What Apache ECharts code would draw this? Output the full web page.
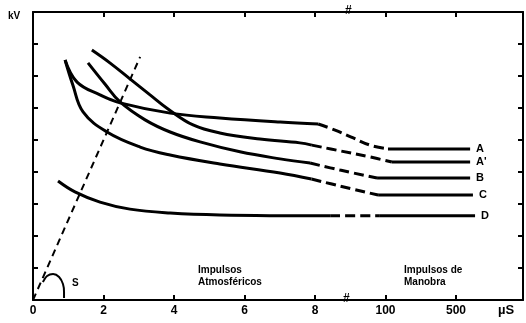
<!DOCTYPE html>
<html>
<head>
<meta charset="utf-8">
<script src="https://cdn.jsdelivr.net/npm/echarts@6/dist/echarts.min.js"></script>
<style>
  html, body { margin: 0; padding: 0; background: #fff; }
  #chart { width: 526px; height: 323px; }
</style>
</head>
<body>
<div id="chart"></div>
<script>
// x en posições do eixo: 0..8 µs linear, 10 = 100 µs, 12 = 500 µs (eixo quebrado em 9)
const xTickPos = [0, 2, 4, 6, 8, 10, 12];
const xTickText = ['0', '2', '4', '6', '8', '100', '500'];

// curva A
const aFront = [[0.91, 7.5], [1.25, 6.81], [1.9, 6.41], [2.47, 6.16], [3.89, 5.84], [5.3, 5.69], [7.01, 5.56], [8.09, 5.5]];
const aMid = [[8.09, 5.5], [8.57, 5.31], [9.03, 5.09], [9.56, 4.84], [10.07, 4.72]];
const aTail = [[10.07, 4.72], [12.4, 4.72]];
// curva A'
const a2Front = [[1.67, 7.81], [2.18, 7.41], [2.75, 6.91], [3.32, 6.41], [3.83, 5.97], [4.54, 5.47], [5.3, 5.22], [6.44, 5.03], [7.57, 4.91], [7.91, 4.84]];
const a2Mid = [[7.91, 4.84], [8.71, 4.66], [9.56, 4.47], [10.18, 4.31]];
const a2Tail = [[10.18, 4.31], [12.4, 4.31]];
// curva B
const bFront = [[1.56, 7.41], [2.04, 6.75], [2.47, 6.19], [3.18, 5.63], [3.89, 5.25], [4.74, 4.94], [5.87, 4.63], [7.01, 4.41], [7.86, 4.28]];
const bMid = [[7.86, 4.28], [8.71, 4.06], [9.76, 3.81]];
const bTail = [[9.76, 3.81], [12.4, 3.81]];
// curva C
const cFront = [[0.91, 7.5], [1.13, 6.72], [1.42, 5.88], [2.1, 5.25], [3.04, 4.78], [3.89, 4.53], [5.3, 4.25], [7.01, 3.97], [7.9, 3.78]];
const cMid = [[7.9, 3.78], [8.71, 3.56], [9.79, 3.28]];
const cTail = [[9.79, 3.28], [12.48, 3.28]];
// curva D
const dFront = [[0.71, 3.72], [1.19, 3.38], [1.9, 3.06], [2.75, 2.84], [3.89, 2.72], [5.3, 2.66], [8.43, 2.63]];
const dMid = [[8.43, 2.63], [9.84, 2.63]];
const dTail = [[9.84, 2.63], [12.54, 2.63]];
// reta S tracejada e arco do ângulo
const sLine = [[0, 0], [3.04, 7.6]];
const sArc = [[0.28, 0.56], [0.4, 0.75], [0.57, 0.81], [0.74, 0.72], [0.85, 0.5], [0.88, 0.25], [0.88, 0.06]];

const chart = echarts.init(document.getElementById('chart'));

const black = '#000';
const lbl = { color: black, fontFamily: 'Liberation Sans, Arial, sans-serif', fontWeight: 'bold' };

function part(data, dashed, name) {
    const s = {
        type: 'line',
        data: data,
        smooth: 0.4,
        symbol: 'none',
        silent: true,
        lineStyle: { color: black, width: 3, type: dashed ? [10, 5] : 'solid' }
    };
    if (name) {
        s.name = name;
        s.endLabel = Object.assign({ show: true, formatter: name, fontSize: 11, distance: 6 }, lbl);
    }
    return s;
}

const axisCommon = {
    axisLine: { show: true, onZero: false, lineStyle: { color: black, width: 2 } },
    axisTick: { show: true, inside: true, length: 5, lineStyle: { color: black, width: 2 } },
    splitLine: { show: false }
};

const option = {
    animation: false,
    grid: { left: 33, right: 3, top: 12, bottom: 23 },
    xAxis: [
        Object.assign({
            type: 'value', min: 0, max: 13.9, interval: 2, position: 'bottom',
            axisLabel: Object.assign({
                show: true, fontSize: 12, margin: 5,
                customValues: xTickPos,
                formatter: function (v) { return xTickText[xTickPos.indexOf(v)] || ''; }
            }, lbl)
        }, axisCommon),
        Object.assign({
            type: 'value', min: 0, max: 13.9, interval: 2, position: 'top',
            axisLabel: { show: false }
        }, axisCommon)
    ],
    yAxis: [
        Object.assign({ type: 'value', min: 0, max: 9, interval: 1, position: 'left', axisLabel: { show: false } }, axisCommon),
        Object.assign({ type: 'value', min: 0, max: 9, interval: 1, position: 'right', axisLabel: { show: false } }, axisCommon)
    ],
    series: [
        part(aFront), part(aMid, true), part(aTail, false, 'A'),
        part(a2Front), part(a2Mid, true), part(a2Tail, false, "A'"),
        part(bFront), part(bMid, true), part(bTail, false, 'B'),
        part(cFront), part(cMid, true), part(cTail, false, 'C'),
        part(dFront), part(dMid, true), part(dTail, false, 'D'),
        {
            type: 'line', data: sLine, symbol: 'none', silent: true,
            lineStyle: { color: black, width: 2, type: [7, 5] }
        },
        {
            type: 'line', data: sArc, smooth: 0.3, symbol: 'none', silent: true,
            lineStyle: { color: black, width: 2 }
        }
    ],
    graphic: [
        { type: 'text', left: 8, top: 11, style: Object.assign({ text: 'kV', fontSize: 10 }, lbl) },
        { type: 'text', left: 72, top: 278, style: Object.assign({ text: 'S', fontSize: 10 }, lbl) },
        { type: 'text', left: 198, top: 264, style: Object.assign({ text: 'Impulsos\nAtmosféricos', fontSize: 10, lineHeight: 12 }, lbl) },
        { type: 'text', left: 404, top: 264, style: Object.assign({ text: 'Impulsos de\nManobra', fontSize: 10, lineHeight: 12 }, lbl) },
        { type: 'text', left: 498, top: 304, style: Object.assign({ text: 'µS', fontSize: 13 }, lbl) },
        { type: 'text', left: 343, top: 293, style: Object.assign({ text: '#', fontSize: 12 }, lbl) },
        { type: 'text', left: 345, top: 5, style: Object.assign({ text: '#', fontSize: 12 }, lbl) }
    ]
};

chart.setOption(option);
</script>
</body>
</html>
